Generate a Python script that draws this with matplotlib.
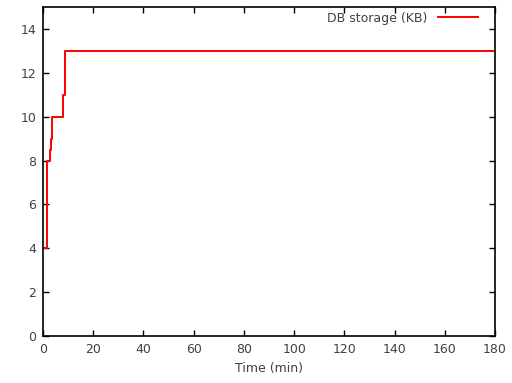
import matplotlib
matplotlib.use("Agg")
import matplotlib.pyplot as plt

# step data (time in min, storage in KB)
time_min = [0, 1.7, 2.8, 3.1, 3.6, 7.8, 8.8, 180]
storage_kb = [4, 8, 8.5, 9, 10, 11, 13, 13]

xticks = list(range(0, 181, 20))
yticks = list(range(0, 15, 2))

plt.rcParams['font.family'] = ['DejaVu Sans']
plt.rcParams['font.size'] = 9

fig = plt.figure(figsize=(5.12, 3.83), dpi=100)
ax = fig.add_axes([0.084, 0.1227, 0.883, 0.859])

ax.plot(time_min, storage_kb, drawstyle='steps-post', color='red', lw=1.4,
        label='DB storage (KB)')

ax.set_xlim(0, 180)
ax.set_ylim(0, 15)
ax.set_xticks(xticks)
ax.set_yticks(yticks)
ax.tick_params(direction='in', top=True, right=True, length=4, width=1,
               colors='black', labelcolor='#404040', pad=5)
for s in ax.spines.values():
    s.set_linewidth(1.2)

ax.set_xlabel('Time (min)', color='#404040', labelpad=4)

leg = ax.legend(loc='upper right', bbox_to_anchor=(0.978, 1.009),
                frameon=False, markerfirst=False,
                handlelength=3.2, borderaxespad=0.2, handletextpad=0.8)
for t in leg.get_texts():
    t.set_color('#404040')

fig.savefig('out.png', dpi=100)
